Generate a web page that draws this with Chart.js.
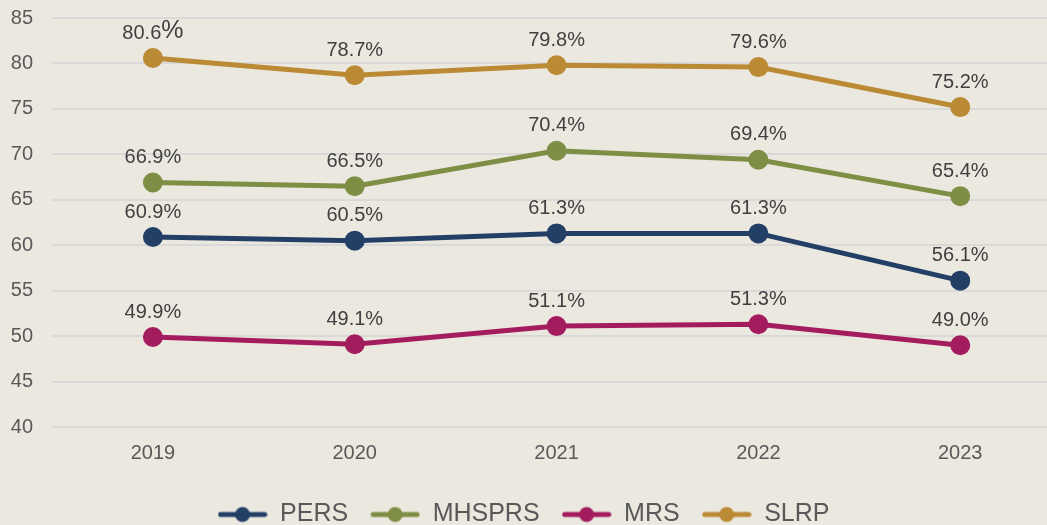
<!DOCTYPE html>
<html>
<head>
<meta charset="utf-8">
<script src="https://cdn.jsdelivr.net/npm/chart.js@4/dist/chart.umd.min.js"></script>
<style>
  html, body { margin: 0; padding: 0; background: #ebe8e0; overflow: hidden; }
  #wrap { width: 1047px; height: 525px; position: relative; }
  #myChart { display: block; }
</style>
</head>
<body>
<div id="wrap"><canvas id="myChart"></canvas></div>
<script>
// data
const years = [2019, 2020, 2021, 2022, 2023];
const pers = [60.9, 60.5, 61.3, 61.3, 56.1];
const mhsprs = [66.9, 66.5, 70.4, 69.4, 65.4];
const mrs = [49.9, 49.1, 51.1, 51.3, 49.0];
const slrp = [80.6, 78.7, 79.8, 79.6, 75.2];
const yTicks = [40, 45, 50, 55, 60, 65, 70, 75, 80, 85];

const colors = {
    pers: "#243f66",
    mhsprs: "#7f8e45",
    mrs: "#a31c5d",
    slrp: "#bb8a34"
};
const font = '"Liberation Sans", Arial, sans-serif';

// legend marker: short line with a dot in the middle
function legendMarker(color) {
    let c = document.createElement('canvas');
    c.width = 50;
    c.height = 18;
    let g = c.getContext('2d');
    g.strokeStyle = color;
    g.lineWidth = 5;
    g.lineCap = 'round';
    g.beginPath();
    g.moveTo(3, 9);
    g.lineTo(47, 9);
    g.stroke();
    g.fillStyle = color;
    g.beginPath();
    g.arc(25, 9, 7.5, 0, Math.PI * 2);
    g.fill();
    return c;
}

function series(label, values, color) {
    return {
        label: label,
        data: years.map((y, i) => ({ x: y, y: values[i] })),
        borderColor: color,
        backgroundColor: color,
        borderWidth: 5,
        pointRadius: 7.5,
        pointHoverRadius: 7.5,
        pointStyle: 'circle',
        marker: legendMarker(color),
        fill: false
    };
}

// value labels above each point
const pointLabels = {
    id: 'pointLabels',
    afterDatasetsDraw(chart) {
        const ctx = chart.ctx;
        ctx.save();
        ctx.fillStyle = '#404040';
        ctx.textBaseline = 'middle';
        chart.data.datasets.forEach((ds, di) => {
            const meta = chart.getDatasetMeta(di);
            meta.data.forEach((pt, i) => {
                let num = ds.data[i].y.toFixed(1);
                let y = pt.y - 25;
                // the first SLRP label has a larger % sign in the original
                let pctSize = (di === 3 && i === 0) ? 25 : 20;
                ctx.font = '20px ' + font;
                let w1 = ctx.measureText(num).width;
                ctx.font = pctSize + 'px ' + font;
                let w2 = ctx.measureText('%').width;
                let x0 = pt.x - (w1 + w2) / 2;
                ctx.textAlign = 'left';
                ctx.font = '20px ' + font;
                ctx.fillText(num, x0, y);
                ctx.font = pctSize + 'px ' + font;
                ctx.fillText('%', x0 + w1, y - (pctSize - 20) / 3);
            });
        });
        ctx.restore();
    }
};

const ctx = document.getElementById('myChart').getContext('2d');
new Chart(ctx, {
    type: 'line',
    data: {
        datasets: [
            series('PERS', pers, colors.pers),
            series('MHSPRS', mhsprs, colors.mhsprs),
            series('MRS', mrs, colors.mrs),
            series('SLRP', slrp, colors.slrp)
        ]
    },
    options: {
        responsive: true,
        maintainAspectRatio: false,
        animation: false,
        layout: { autoPadding: false, padding: { top: 0, left: 0, right: 0, bottom: -12 } },
        scales: {
            x: {
                type: 'linear',
                min: 2018.5,
                max: 2023.43,
                afterBuildTicks: scale => { scale.ticks = years.map(v => ({ value: v })); },
                afterFit: scale => {
                    scale.paddingLeft = 0;
                    scale.paddingRight = 0;
                    scale.height = 53;
                },
                grid: { display: false },
                border: { display: false },
                ticks: {
                    color: '#595959',
                    font: { size: 20, family: font },
                    padding: 6,
                    callback: v => String(v)
                }
            },
            y: {
                min: 40,
                max: 85,
                afterBuildTicks: scale => { scale.ticks = yTicks.map(v => ({ value: v })); },
                afterFit: scale => {
                    scale.width = 52;
                    scale.paddingTop = 18;
                    scale.paddingBottom = 0;
                },
                grid: { color: '#d9d9d9', lineWidth: 2, drawTicks: false },
                border: { display: false },
                ticks: {
                    color: '#595959',
                    font: { size: 20, family: font },
                    padding: 19
                }
            }
        },
        plugins: {
            legend: {
                position: 'bottom',
                labels: {
                    usePointStyle: true,
                    pointStyleWidth: 50,
                    color: '#595959',
                    font: { size: 25, family: font },
                    padding: 22,
                    generateLabels: chart => chart.data.datasets.map((ds, i) => ({
                        text: ds.label,
                        fontColor: '#595959',
                        pointStyle: ds.marker,
                        fillStyle: ds.borderColor,
                        strokeStyle: ds.borderColor,
                        lineWidth: 0,
                        hidden: false,
                        datasetIndex: i
                    }))
                }
            },
            tooltip: { enabled: false }
        }
    },
    plugins: [pointLabels]
});
</script>
</body>
</html>
